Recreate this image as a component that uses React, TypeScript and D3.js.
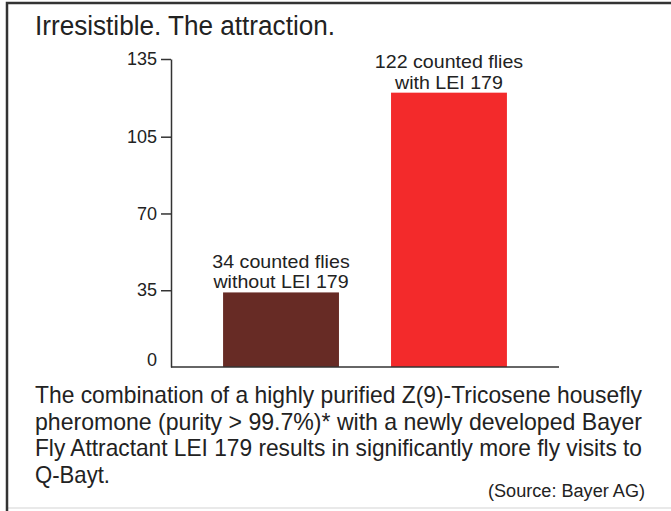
import { useEffect, useRef } from "react";
import * as d3 from "d3";

const categories = ["without LEI 179", "with LEI 179"];
const flyCounts = [34, 122];
const barColors = ["#672b25", "#f32a2b"];
const tickValues = [0, 35, 70, 105, 135];
const title = "Irresistible. The attraction.";
const captionLines = [
  "The combination of a highly purified Z(9)-Tricosene housefly",
  "pheromone (purity > 99.7%)* with a newly developed Bayer",
  "Fly Attractant LEI 179 results in significantly more fly visits to",
  "Q-Bayt.",
];
const source = "(Source: Bayer AG)";

const font = "'Liberation Sans', Arial, Helvetica, sans-serif";
const ink = "#222";

export default function App() {
  const axisRef = useRef<SVGGElement>(null);
  const width = 671;
  const height = 511;

  const x = d3.scaleBand<string>()
    .domain(categories)
    .range([171, 559])
    .paddingInner(0.31)
    .paddingOuter(0.31);

  // the printed axis is squeezed above 105, so the scale is piecewise
  const y = d3.scaleLinear().domain([0, 105, 135]).range([367, 136.7, 59]);

  useEffect(() => {
    if (!axisRef.current) return;
    const g = d3.select(axisRef.current);
    g.selectAll("*").remove();
    g.call(
      d3.axisLeft(y)
        .tickValues(tickValues)
        .tickSize(10)
        .tickSizeOuter(0)
        .tickPadding(4)
        .tickFormat(d3.format("d"))
    );
    g.attr("font-family", font).attr("font-size", 18);
    g.select(".domain").attr("stroke", "#333").attr("stroke-width", 1.5);
    g.selectAll(".tick line").attr("stroke", "#333").attr("stroke-width", 1.5);
    g.selectAll(".tick text").attr("fill", ink);
    const zero = g.selectAll(".tick").filter((d) => d === 0);
    zero.select("line").remove();
    zero.select("text").attr("y", -7);
  }, []);

  return (
    <div style={{ position: "absolute", left: 0, top: 0 }}>
      <svg width={width} height={height} style={{ display: "block", background: "#fff" }}>
        {/* frame */}
        <line x1={7} x2={width} y1={508} y2={508} stroke="#e2e2e2" strokeWidth={1.5} />
        <path d={`M7,${height} V3 H${width}`} fill="none" stroke="#333" strokeWidth={2.5} />

        <text x={35} y={35} fontFamily={font} fontSize={27} fill={ink}
          textLength={300} lengthAdjust="spacingAndGlyphs">
          {title}
        </text>

        {/* bars */}
        {categories.map((c, i) => (
          <rect key={c} x={x(c)} y={y(flyCounts[i])} width={x.bandwidth()}
            height={y(0) - y(flyCounts[i])} fill={barColors[i]} />
        ))}

        {/* bar labels, tight leading so a slightly wide 18px face */}
        {categories.map((c, i) => {
          const cx = (x(c) ?? 0) + x.bandwidth() / 2;
          const top = y(flyCounts[i]);
          return (
            <g key={c} transform={`translate(${cx},${top}) scale(1.09,1)`}>
              <text textAnchor="middle" fontFamily={font} fontSize={18} fill={ink}>
                <tspan x={0} y={-24.5}>{`${flyCounts[i]} counted flies`}</tspan>
                <tspan x={0} y={-4}>{c}</tspan>
              </text>
            </g>
          );
        })}

        <g ref={axisRef} transform="translate(171,0)" />
        <line x1={171} x2={559} y1={y(0)} y2={y(0)} stroke="#333" strokeWidth={1.5} />

        {/* caption: narrow print face, so a smaller font stretched vertically */}
        {captionLines.map((line, i) => (
          <text key={i} transform={`translate(35,${403 + i * 26.5}) scale(1,1.2)`}
            fontFamily={font} fontSize={20} fill={ink}
            textLength={i < captionLines.length - 1 ? 607 : 75} lengthAdjust="spacingAndGlyphs">
            {line}
          </text>
        ))}
        <text x={645} y={497} textAnchor="end" fontFamily={font} fontSize={18} fill={ink}
          textLength={157} lengthAdjust="spacingAndGlyphs">
          {source}
        </text>
      </svg>
    </div>
  );
}
